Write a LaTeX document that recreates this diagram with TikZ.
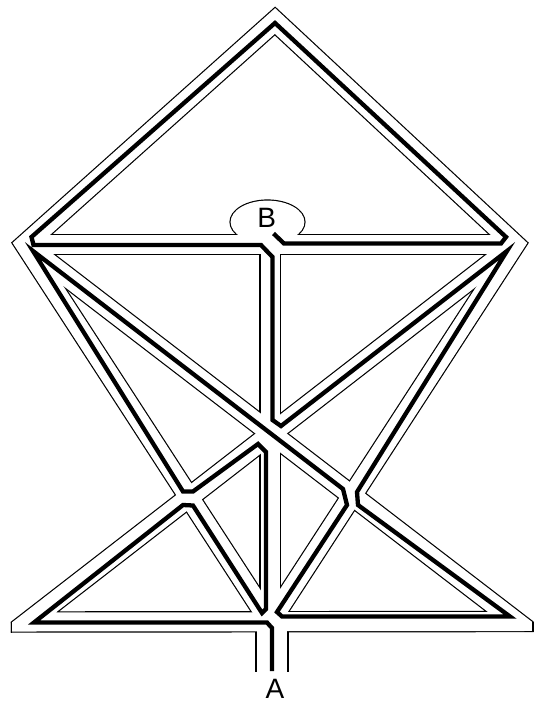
\documentclass[tikz,border=0pt]{standalone}
\usepackage{fontspec}
\newfontfamily\mazefont{Liberation Sans}
\usetikzlibrary{calc}

\tikzset{
  wallpen/.style={draw=black, line width=21.4pt, line join=miter},
  floorpen/.style={draw=white, line width=19pt, line join=miter},
  route/.style={draw=black, line width=4.3pt, line join=miter},
  endlabel/.style={font=\mazefont\fontsize{28}{30}\selectfont, inner sep=0pt},
}

% corridors of the maze: once with the wall pen, once with the floor pen
\newcommand{\mazecorridors}[5]{%
  % outline of the figure
  \draw[#1] (L) -- (T) -- (R) -- (XR) -- (BR) -- (BL) -- (XL) -- cycle;
  % inner corridors
  \draw[#1] (L) -- (R);
  \draw[#1] (L) -- (XR);
  \draw[#1] (R) -- (XL);
  \draw[#1] (XL) -- (C);
  \draw[#1] (XR) -- (C);
  \draw[#1] (VT) -- (C);
  % way out to A
  \draw[#1, line width=#2] (Stop) -- (Send);
  % bubble round B
  \fill[#3] (Bc) ellipse [x radius=#4, y radius=#5];
}

\begin{document}
\begin{tikzpicture}[x=1pt, y=-1pt]
  \useasboundingbox (0,0) rectangle (534,705);

  % corners of the figure
  \coordinate (T) at (275,21);
  \coordinate (L) at (25,244.5);
  \coordinate (R) at (515,244.5);
  \coordinate (BL) at (28,622);
  \coordinate (BR) at (516,621.5);
  \coordinate (C) at (270,622);
  \coordinate (VT) at (270,244.5);
  \coordinate (Stop) at (272,622);
  \coordinate (Send) at (272,672);
  \coordinate (Bc) at (267.5,222);
  \coordinate (XL) at (intersection of L--C and R--BL);
  \coordinate (XR) at (intersection of R--C and L--BR);

  % walls and floor
  \begin{scope}
    \clip (10.5,0) rectangle (533.5,705);
    \mazecorridors{wallpen}{33.2pt}{black}{38.1}{22.6}
    \mazecorridors{floorpen}{30.8pt}{white}{36.9}{21.4}
  \end{scope}
  % blunt bottom corners
  \draw[line width=1.2pt] (11.1,622) -- (11.1,632.7);
  \draw[line width=1.2pt] (532.9,621.5) -- (532.9,632.2);

  % the way from A to B
  \draw[route] (272,671) -- (272,628) -- (267,622.5) -- (34,622.5)
    -- (183,505) -- (193,505.5) -- (262,613) -- (266,609) -- (266,452)
    -- (258,444) -- (193,491.5) -- (183,491.5) -- (33,251)
    -- (343,489) -- (347,505) -- (277,612) -- (282,616.5) -- (510,616.5)
    -- (358,505) -- (357,492) -- (507,251) -- (281,426) -- (272.5,420)
    -- (272.5,257) -- (261,245) -- (33.5,245) -- (31.5,237) -- (275,23)
    -- (506,237) -- (501,243.5) -- (284,243.5) -- (273.5,233.5);

  \node[endlabel] (B) at (266.7,217.5) {B};
  \node[endlabel] (A) at (275,689) {A};
\end{tikzpicture}
\end{document}
